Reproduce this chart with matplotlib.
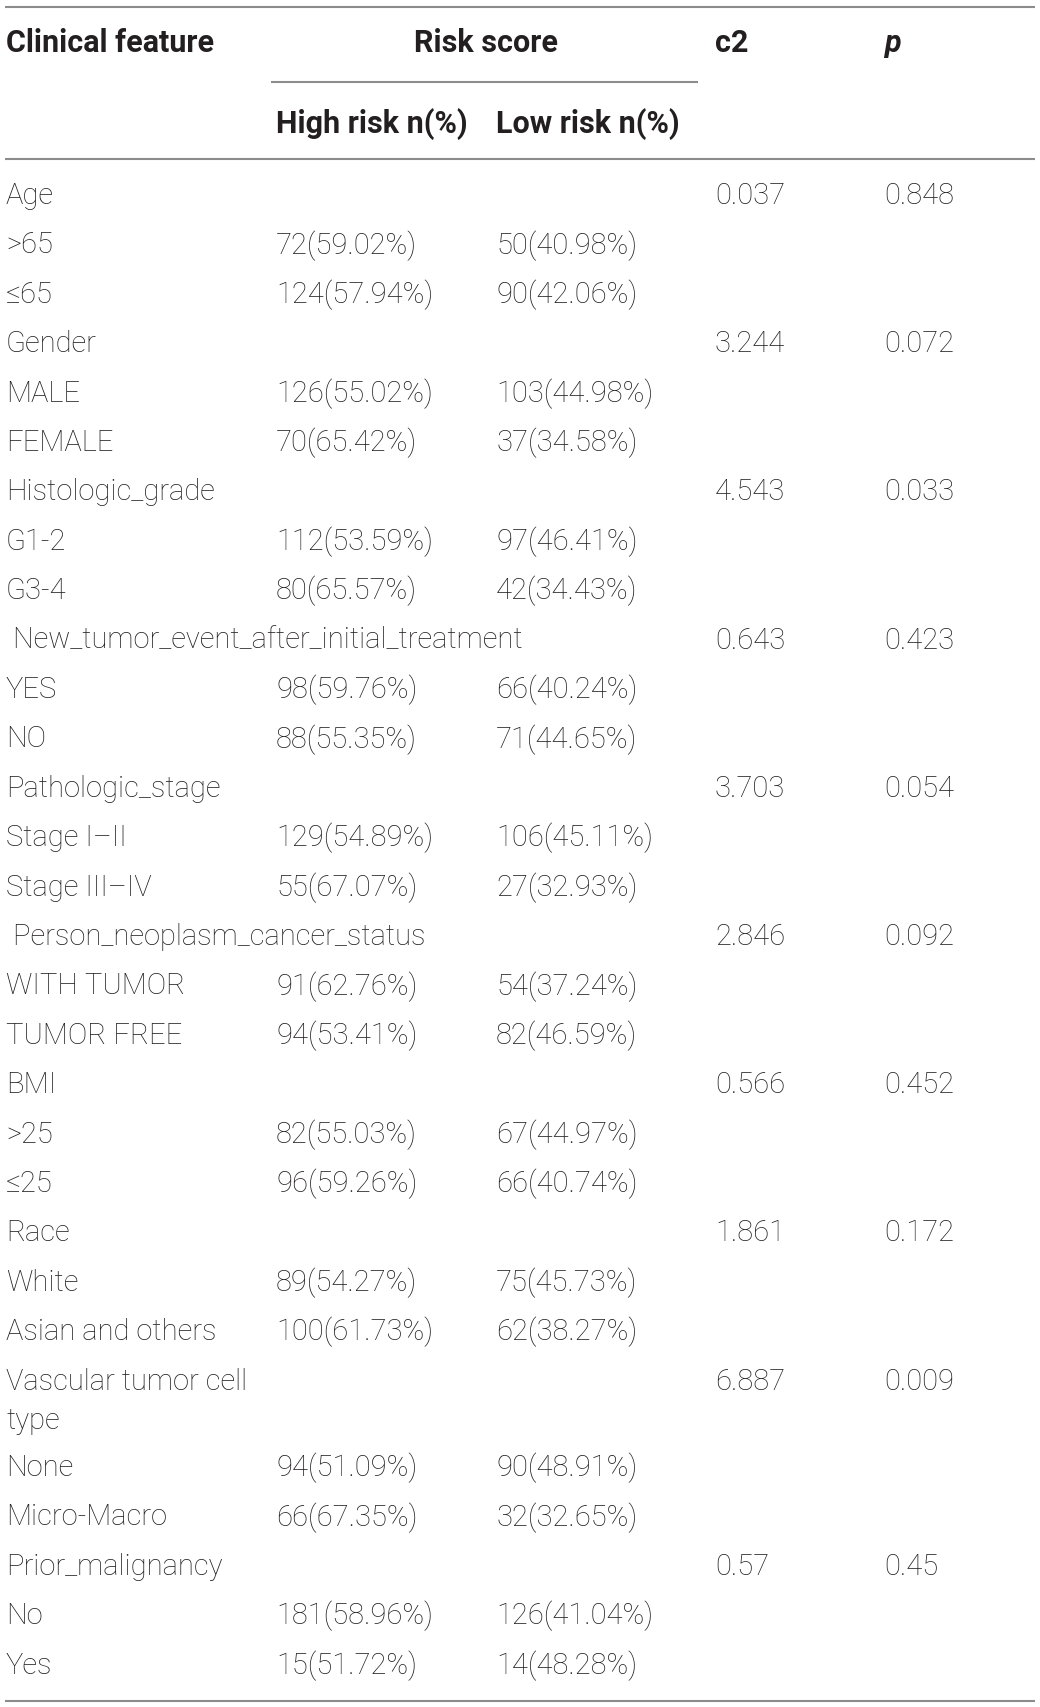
import matplotlib.pyplot as plt

# group rows: feature name, chi-square and p value
groups = ['Age', 'Gender', 'Histologic_grade',
          ' New_tumor_event_after_initial_treatment', 'Pathologic_stage',
          ' Person_neoplasm_cancer_status', 'BMI', 'Race',
          'Vascular tumor cell\ntype', 'Prior_malignancy']
c2_values = ['0.037', '3.244', '4.543', '0.643', '3.703', '2.846', '0.566',
             '1.861', '6.887', '0.57']
p_values = ['0.848', '0.072', '0.033', '0.423', '0.054', '0.092', '0.452',
            '0.172', '0.009', '0.45']

# two sub rows per group
sub_labels = [['>65', '≤65'], ['MALE', 'FEMALE'], ['G1-2', 'G3-4'],
              ['YES', 'NO'], ['Stage I–II', 'Stage III–IV'],
              ['WITH TUMOR', 'TUMOR FREE'], ['>25', '≤25'],
              ['White', 'Asian and others'], ['None', 'Micro-Macro'],
              ['No', 'Yes']]
high_n = [[72, 124], [126, 70], [112, 80], [98, 88], [129, 55], [91, 94],
          [82, 96], [89, 100], [94, 66], [181, 15]]
high_pct = [['59.02', '57.94'], ['55.02', '65.42'], ['53.59', '65.57'],
            ['59.76', '55.35'], ['54.89', '67.07'], ['62.76', '53.41'],
            ['55.03', '59.26'], ['54.27', '61.73'], ['51.09', '67.35'],
            ['58.96', '51.72']]
low_n = [[50, 90], [103, 37], [97, 42], [66, 71], [106, 27], [54, 82],
         [67, 66], [75, 62], [90, 32], [126, 14]]
low_pct = [['40.98', '42.06'], ['44.98', '34.58'], ['46.41', '34.43'],
           ['40.24', '44.65'], ['45.11', '32.93'], ['37.24', '46.59'],
           ['44.97', '40.74'], ['45.73', '38.27'], ['48.91', '32.65'],
           ['41.04', '48.28']]

W, H = 1040, 1707
col_x = [6, 276, 496, 715, 884]
row_step = 49.4
txt_col = '#231f20'
line_col = '#8c8c8c'

fig = plt.figure(figsize=(W / 100, H / 100), dpi=100)
ax = fig.add_axes([0, 0, 1, 1])
ax.set_xlim(0, W)
ax.set_ylim(H, 0)
ax.axis('off')

body = dict(fontsize=21, color=txt_col, family='Roboto', fontweight='light',
            va='center', ha='left')
head = dict(fontsize=22, color=txt_col, family='Roboto', fontweight='bold',
            va='center', ha='left')

# header
ax.hlines(7, 5, 1035, color=line_col, lw=1.5)
ax.text(col_x[0], 43, 'Clinical feature', **head)
ax.text(486, 43, 'Risk score', **dict(head, ha='center'))
ax.text(col_x[3], 43, 'c2', **head)
ax.text(col_x[4], 43, 'p', **dict(head, style='italic'))
ax.hlines(82, 271, 698, color=line_col, lw=1.5)
ax.text(col_x[1], 124, 'High risk n(%)', **head)
ax.text(col_x[2], 124, 'Low risk n(%)', **head)
ax.hlines(159, 5, 1035, color=line_col, lw=1.5)

# body
y = 196
for g, name in enumerate(groups):
    lines = name.split('\n')
    for i, part in enumerate(lines):
        ax.text(col_x[0], y + 39 * i, part, **body)
    ax.text(col_x[3], y, c2_values[g], **body)
    ax.text(col_x[4], y, p_values[g], **body)
    y += row_step + 37 * (len(lines) - 1)
    for k in range(2):
        ax.text(col_x[0], y, sub_labels[g][k], **body)
        ax.text(col_x[1], y, f'{high_n[g][k]}({high_pct[g][k]}%)', **body)
        ax.text(col_x[2], y, f'{low_n[g][k]}({low_pct[g][k]}%)', **body)
        y += row_step

ax.hlines(1701, 5, 1035, color=line_col, lw=1.5)

fig.savefig('out.png', dpi=100)
